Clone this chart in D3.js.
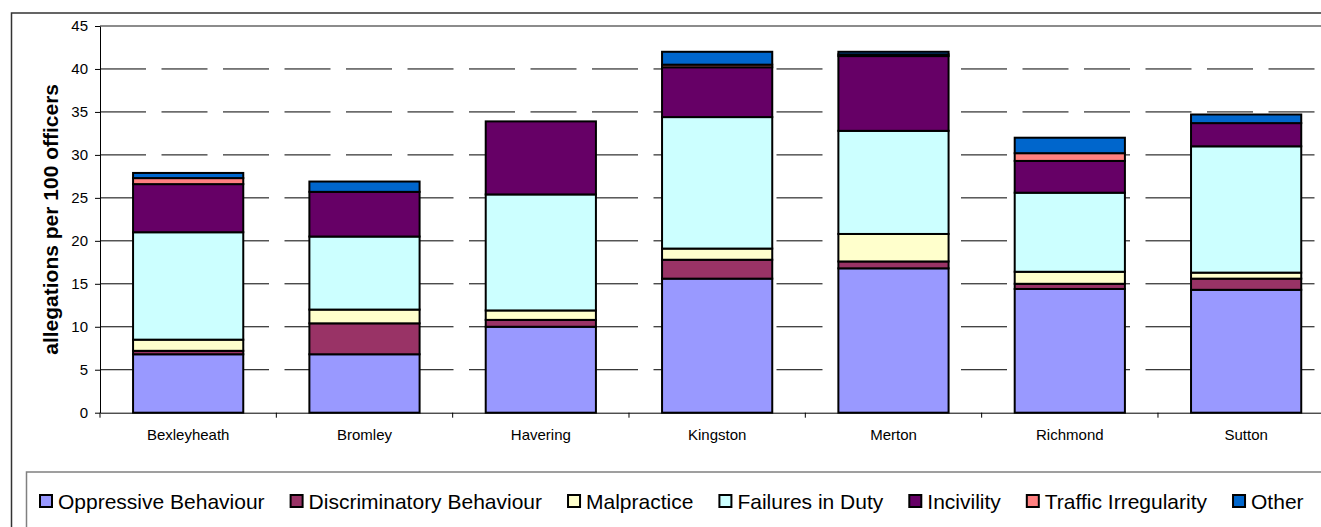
<!DOCTYPE html>
<html>
<head>
<meta charset="utf-8">
<script src="https://cdn.jsdelivr.net/npm/d3@7"></script>
<style>
body { margin: 0; background: #fff; }
text { font-family: Arial, "Liberation Sans", sans-serif; fill: #000; }
</style>
</head>
<body>
<div id="chart"></div>
<script>
'use strict';

// data
const categories = ['Bexleyheath', 'Bromley', 'Havering', 'Kingston', 'Merton', 'Richmond', 'Sutton'];
const seriesNames = ['Oppressive Behaviour', 'Discriminatory Behaviour', 'Malpractice', 'Failures in Duty', 'Incivility', 'Traffic Irregularity', 'Other'];
const seriesColors = ['#9999FF', '#993366', '#FFFFCC', '#CCFFFF', '#660066', '#FF8080', '#0066CC'];

const oppressive     = [6.8, 6.8, 10.0, 15.6, 16.8, 14.4, 14.3];
const discriminatory = [0.4, 3.6, 0.8, 2.2, 0.8, 0.6, 1.3];
const malpractice    = [1.3, 1.6, 1.1, 1.3, 3.2, 1.4, 0.7];
const failures       = [12.5, 8.5, 13.5, 15.3, 12.0, 9.2, 14.7];
const incivility     = [5.6, 5.2, 8.5, 5.8, 8.7, 3.7, 2.7];
const traffic        = [0.7, 0, 0, 0.3, 0.2, 0.9, 0];
const other          = [0.6, 1.2, 0, 1.5, 0.3, 1.8, 1.0];

const yTicks = [0, 5, 10, 15, 20, 25, 30, 35, 40, 45];
const yTitle = 'allegations per 100 officers';

const seriesValues = [oppressive, discriminatory, malpractice, failures, incivility, traffic, other];

let rows = categories.map((c, i) => {
    let row = { category: c };
    seriesNames.forEach((s, j) => { row[s] = seriesValues[j][i]; });
    return row;
});

let width = 1321,
    height = 527,
    plotLeft = 100,
    plotRight = 1334.3,
    plotTop = 26,
    plotBottom = 412.7;

let svg = d3.select('#chart').append('svg')
    .attr('width', width)
    .attr('height', height);

svg.append('rect')
    .attr('width', width).attr('height', height)
    .attr('fill', '#fff');

// outer chart border (runs off the right / bottom edge)
svg.append('rect')
    .attr('x', 11.5).attr('y', 13)
    .attr('width', 1400).attr('height', 600)
    .attr('fill', 'none')
    .attr('stroke', '#333')
    .attr('stroke-width', 1.5);

let X = d3.scaleBand()
    .domain(categories)
    .range([plotLeft, plotRight])
    .paddingInner(0.375)
    .paddingOuter(0.1875);

let Y = d3.scaleLinear()
    .domain([0, 45])
    .range([plotBottom, plotTop]);

// dashed gridlines
svg.append('g').selectAll('line')
    .data(yTicks.filter(t => t > 0 && t < 45))
    .enter()
    .append('line')
    .attr('x1', plotLeft).attr('x2', plotRight)
    .attr('y1', d => Y(d)).attr('y2', d => Y(d))
    .attr('stroke', '#000')
    .attr('stroke-width', 1)
    .attr('stroke-dasharray', '46,15.5');

let stacked = d3.stack().keys(seriesNames)(rows);

let layer = svg.append('g').selectAll('g')
    .data(stacked)
    .enter()
    .append('g')
    .attr('fill', (d, i) => seriesColors[i]);

layer.selectAll('rect')
    .data(d => d.filter(p => p[1] - p[0] > 0))
    .enter()
    .append('rect')
    .attr('x', d => X(d.data.category))
    .attr('width', X.bandwidth())
    .attr('y', d => Y(d[1]))
    .attr('height', d => Y(d[0]) - Y(d[1]))
    .attr('stroke', '#000')
    .attr('stroke-width', 2);

// plot area top border
svg.append('line')
    .attr('x1', plotLeft).attr('x2', plotRight)
    .attr('y1', Y(45)).attr('y2', Y(45))
    .attr('stroke', '#8c8c8c')
    .attr('stroke-width', 2);

// y axis
let yAxis = svg.append('g')
    .attr('transform', 'translate(' + plotLeft + ',0)')
    .call(d3.axisLeft(Y).tickValues(yTicks).tickSize(5).tickSizeOuter(0).tickPadding(7));
yAxis.select('.domain').attr('stroke', '#000');
yAxis.selectAll('line').attr('stroke', '#000');
yAxis.selectAll('text')
    .attr('font-size', 15)
    .attr('font-family', 'Arial, "Liberation Sans", sans-serif')
    .attr('fill', '#000');

// x axis, ticks sit on the band boundaries
let xAxis = svg.append('g')
    .attr('transform', 'translate(0,' + plotBottom + ')')
    .call(d3.axisBottom(X).tickSize(0).tickSizeOuter(0).tickPadding(17));
xAxis.select('.domain').attr('stroke', '#000');
xAxis.selectAll('text')
    .attr('font-size', 15)
    .attr('font-family', 'Arial, "Liberation Sans", sans-serif')
    .attr('fill', '#000');
xAxis.selectAll('.sep')
    .data(categories)
    .enter()
    .append('line')
    .attr('class', 'sep')
    .attr('x1', d => X(d) - X.step() * X.paddingOuter())
    .attr('x2', d => X(d) - X.step() * X.paddingOuter())
    .attr('y1', 0).attr('y2', 5)
    .attr('stroke', '#000');

// y axis title
svg.append('text')
    .attr('transform', 'translate(58,' + ((plotTop + plotBottom) / 2) + ') rotate(-90)')
    .attr('text-anchor', 'middle')
    .attr('font-size', 21)
    .attr('font-weight', 'bold')
    .text(yTitle);

// legend
svg.append('rect')
    .attr('x', 26.5).attr('y', 472)
    .attr('width', 1400).attr('height', 200)
    .attr('fill', 'none')
    .attr('stroke', '#808080')
    .attr('stroke-width', 1.5);

let lx = 39;
seriesNames.forEach((name, i) => {
    svg.append('rect')
        .attr('x', lx + 1).attr('y', 495)
        .attr('width', 12).attr('height', 12)
        .attr('fill', seriesColors[i])
        .attr('stroke', '#000')
        .attr('stroke-width', 2);
    let t = svg.append('text')
        .attr('x', lx + 19).attr('y', 509)
        .attr('font-size', 21)
        .text(name);
    lx += 19 + t.node().getComputedTextLength() + 25;
});
</script>
</body>
</html>
